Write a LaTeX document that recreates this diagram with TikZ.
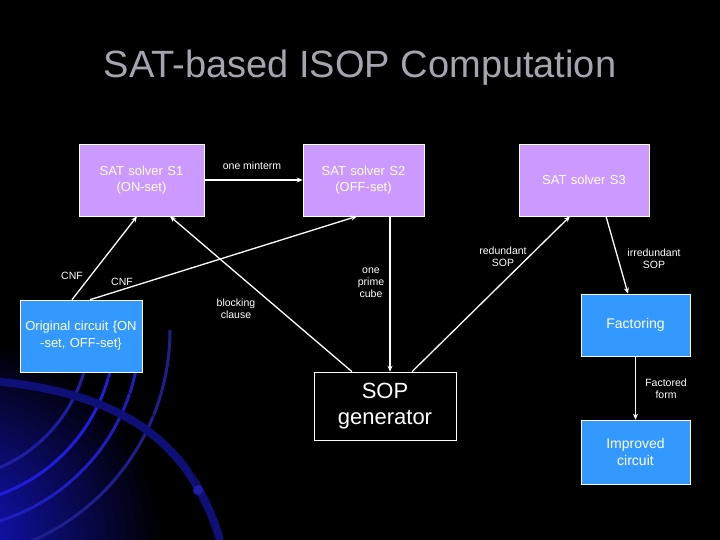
\documentclass[tikz,border=0pt]{standalone}
\usepackage{fontspec}
\setmainfont{Liberation Sans}
\usetikzlibrary{arrows.meta}
\definecolor{vio}{HTML}{CC99FF}
\definecolor{blu}{HTML}{3399FF}
\definecolor{glow}{RGB}{20,20,200}
\definecolor{arcA}{RGB}{30,30,160}
\definecolor{arcB}{RGB}{30,30,220}
\definecolor{arcC}{RGB}{30,30,190}
\definecolor{arcD}{RGB}{30,30,140}
\definecolor{band}{RGB}{15,15,120}
\definecolor{thin}{RGB}{40,40,200}
\definecolor{dot}{RGB}{30,30,170}
\definecolor{ttl}{RGB}{165,165,175}
\begin{document}
\begin{tikzpicture}[x=1pt,y=-1pt,
  box/.style={draw=white,line width=0.6pt,minimum width=#1,text width=#1,align=center,inner sep=1pt,text=white},
  lbl/.style={text=white,font=\fontsize{10.5}{12}\selectfont,align=center,inner sep=1pt},
  arr/.style={white,line width=1.3pt,-{Stealth[length=6pt,width=5pt]}}]
\useasboundingbox (0,0) rectangle (720,540);
\fill[black] (0,0) rectangle (720,540);
\begin{scope}
\clip (0,0) rectangle (720,540);
\shade[inner color=glow,outer color=black] (-40,540) circle (200);
\foreach \r/\c in {150/arcA,175/arcB,200/arcC,230/arcD}{
  \draw[line width=3pt,color=\c] (-60,330) ++(0:\r) arc (0:75:\r);
}
\draw[line width=8pt,band] (-20,380) .. controls (120,390) and (190,440) .. (220,540);
\draw[line width=2pt,thin] (80,360) .. controls (150,400) and (190,450) .. (198,490);
\fill[dot] (198,490) circle (5);
\end{scope}
\node[text=ttl,font=\fontsize{38}{40}\selectfont] (title) at (360,68) {SAT-based ISOP Computation};
\node[box=123pt,fill=vio,minimum height=72pt,font=\fontsize{13}{16}\selectfont] (s1) at (141.5,180) {SAT solver S1\\(ON-set)};
\node[box=119pt,fill=vio,minimum height=72pt,font=\fontsize{13}{16}\selectfont] (s2) at (363.5,180) {SAT solver S2\\(OFF-set)};
\node[box=128pt,fill=vio,minimum height=72pt,font=\fontsize{13}{16}\selectfont] (s3) at (584,180) {SAT solver S3};
\node[box=120pt,fill=blu,minimum height=72pt,font=\fontsize{13}{17}\selectfont] (oc) at (81,336) {Original circuit \{ON\\-set, OFF-set\}};
\node[box=107pt,fill=blu,minimum height=62pt,font=\fontsize{14}{17}\selectfont] (fa) at (635.5,325) {Factoring};
\node[box=107pt,fill=blu,minimum height=64pt,font=\fontsize{14}{17}\selectfont] (im) at (635.5,452) {Improved\\circuit};
\node[box=140pt,fill=black,minimum height=68pt,font=\fontsize{22}{26}\selectfont] (sop) at (385,406) {SOP\\generator};
\draw[arr] (s1.east) -- (s2.west);
\draw[arr] ([xshift=-9pt]oc.north) -- ([xshift=-4.5pt]s1.south);
\draw[arr] ([xshift=9pt]oc.north) -- ([xshift=-6.5pt]s2.south);
\draw[arr] ([xshift=-33pt]sop.north) -- ([xshift=28.5pt]s1.south);
\draw[arr] ([xshift=26.5pt]s2.south) -- ([xshift=5pt]sop.north);
\draw[arr] ([xshift=27pt]sop.north) -- ([xshift=-14pt]s3.south);
\draw[arr] ([xshift=22pt]s3.south) -- ([xshift=-7.5pt]fa.north);
\draw[arr] (fa.south) -- (im.north);
\node[lbl] (l1) at (252,166) {one minterm};
\node[lbl] (l2) at (72,276) {CNF};
\node[lbl] (l3) at (122,282) {CNF};
\node[lbl] (l4) at (236,309) {blocking\\clause};
\node[lbl] (l5) at (371,283) {one\\prime\\cube};
\node[lbl] (l6) at (503,257) {redundant\\SOP};
\node[lbl] (l7) at (654,259) {irredundant\\SOP};
\node[lbl] (l8) at (666,389) {Factored\\form};
\end{tikzpicture}
\end{document}
